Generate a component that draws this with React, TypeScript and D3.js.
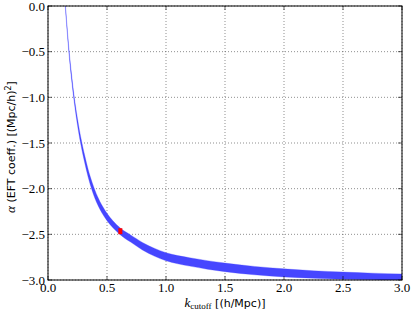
import { useMemo } from "react";
import * as d3 from "d3";

// k_cutoff [h/Mpc] and the band of alpha values
const kCutoff = [
  0.14, 0.147, 0.16, 0.178, 0.2, 0.22, 0.25, 0.28, 0.31, 0.34, 0.375, 0.42, 0.46, 0.5, 0.55,
  0.61, 0.65, 0.7, 0.8, 0.9, 1.0, 1.1, 1.2, 1.35, 1.5, 1.75, 2.0, 2.25, 2.5, 2.75, 3.0,
];
const alphaUpper = [
  0.14, 0.02, -0.2, -0.475, -0.75, -0.97, -1.235, -1.452, -1.63, -1.788, -1.935, -2.086,
  -2.188, -2.27, -2.352, -2.428, -2.467, -2.506, -2.589, -2.652, -2.701, -2.733, -2.756, -2.788,
  -2.815, -2.851, -2.878, -2.899, -2.913, -2.925, -2.934,
];
const alphaLower = [
  0.1, -0.02, -0.24, -0.525, -0.81, -1.03, -1.305, -1.528, -1.71, -1.872, -2.025, -2.174,
  -2.272, -2.35, -2.428, -2.502, -2.543, -2.584, -2.671, -2.738, -2.789, -2.823, -2.848, -2.882,
  -2.909, -2.943, -2.966, -2.981, -2.991, -2.997, -3.002,
];

// best-fit point
const bestK = [0.613];
const bestAlpha = [-2.466];

const xTicks = [0, 0.5, 1.0, 1.5, 2.0, 2.5, 3.0];
const yTicks = [0, -0.5, -1.0, -1.5, -2.0, -2.5, -3.0];

const W = 413;
const H = 312;
const left = 48, right = 402, top = 6, bottom = 280;

const serif = "'Liberation Serif', 'DejaVu Serif', serif";
const sans = "'DejaVu Sans', sans-serif";

export default function App() {
  const x = d3.scaleLinear().domain([0, 3]).range([left, right]);
  const y = d3.scaleLinear().domain([-3, 0]).range([bottom, top]);
  const fmt = d3.format(".1f");

  const bandPath = useMemo(() => {
    const area = d3
      .area<number>()
      .x((k) => x(k))
      .y0((_, i) => y(alphaLower[i]))
      .y1((_, i) => y(alphaUpper[i]))
      .curve(d3.curveMonotoneX);
    return area(kCutoff) ?? "";
  }, []);

  const grid = { stroke: "#444", strokeWidth: 0.6, strokeDasharray: "1,2" };

  return (
    <svg width={W} height={H} style={{ position: "absolute", left: 0, top: 0, background: "#fff" }}>
      <defs>
        <clipPath id="plot">
          <rect x={left} y={top} width={right - left} height={bottom - top} />
        </clipPath>
      </defs>

      {/* grid */}
      {xTicks.map((t) => (
        <line key={"gx" + t} x1={x(t)} x2={x(t)} y1={top} y2={bottom} {...grid} />
      ))}
      {yTicks.map((t) => (
        <line key={"gy" + t} x1={left} x2={right} y1={y(t)} y2={y(t)} {...grid} />
      ))}

      {/* band */}
      <g clipPath="url(#plot)">
        <path d={bandPath} fill="#4646ff" stroke="#4646ff" strokeWidth={0.5} strokeOpacity={0.6} />
        {bestK.map((k, i) => (
          <rect key={i} x={x(k) - 2} y={y(bestAlpha[i]) - 3} width={4} height={6} fill="#ff0000" />
        ))}
      </g>

      {/* ticks */}
      {xTicks.map((t) => (
        <g key={"tx" + t} stroke="#000" strokeWidth={0.6}>
          <line x1={x(t)} x2={x(t)} y1={bottom} y2={bottom - 4} />
          <line x1={x(t)} x2={x(t)} y1={top} y2={top + 4} />
        </g>
      ))}
      {yTicks.map((t) => (
        <g key={"ty" + t} stroke="#000" strokeWidth={0.6}>
          <line x1={left} x2={left + 4} y1={y(t)} y2={y(t)} />
          <line x1={right} x2={right - 4} y1={y(t)} y2={y(t)} />
        </g>
      ))}

      <rect x={left} y={top} width={right - left} height={bottom - top} fill="none" stroke="#000" strokeWidth={1} />

      {/* tick labels */}
      {xTicks.map((t) => (
        <text key={"lx" + t} x={x(t)} y={292} textAnchor="middle" fontFamily={serif} fontSize={13}>
          {fmt(t)}
        </text>
      ))}
      {yTicks.map((t) => (
        <text key={"ly" + t} x={left - 3} y={y(t)} dy="0.35em" textAnchor="end" fontFamily={serif} fontSize={13}>
          {fmt(t)}
        </text>
      ))}

      {/* axis labels */}
      <text x={(left + right) / 2} y={307} textAnchor="middle" fontFamily={sans} fontSize={11}>
        <tspan fontFamily={serif} fontStyle="italic" fontSize={13}>k</tspan>
        <tspan fontFamily={serif} fontSize={9} dy={2}>cutoff</tspan>
        <tspan dy={-2}> [(h/Mpc)]</tspan>
      </text>
      <text
        transform={`translate(15, ${(top + bottom) / 2 + 4}) rotate(-90)`}
        textAnchor="middle"
        fontFamily={sans}
        fontSize={11}
      >
        <tspan fontFamily={serif} fontStyle="italic" fontSize={13}>α</tspan>
        <tspan> (EFT coeff.) [(Mpc/h)</tspan>
        <tspan fontSize={8} dy={-4}>2</tspan>
        <tspan dy={4}>]</tspan>
      </text>
    </svg>
  );
}
